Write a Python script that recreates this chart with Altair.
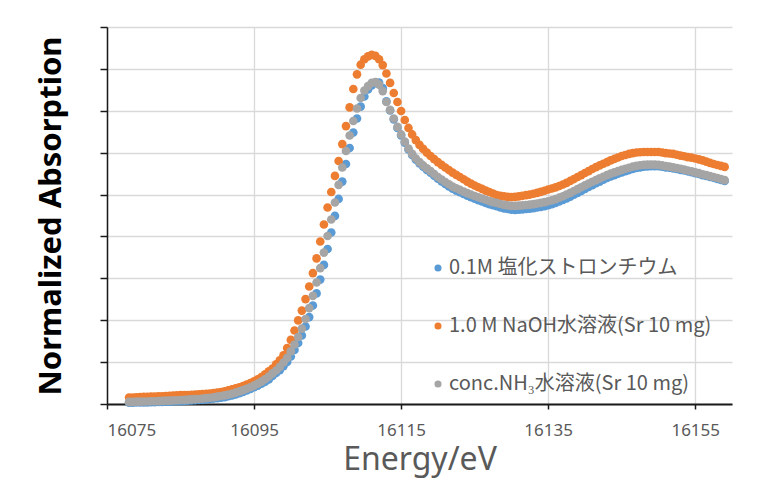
import altair as alt
import pandas as pd

# Energy grid (eV): 0.5 eV steps from 16078 to 16159
energy = [16078 + 0.5 * i for i in range(163)]

# ---- 0.1M SrCl2 (blue) ----
blue_pre = [0.006, 0.006, 0.007, 0.007, 0.008, 0.008, 0.009, 0.009, 0.010, 0.010,
            0.011, 0.011, 0.012, 0.013, 0.014, 0.015, 0.016, 0.017, 0.018, 0.019,
            0.020, 0.022, 0.024, 0.026, 0.028, 0.030, 0.033, 0.037, 0.041, 0.046,
            0.052, 0.058, 0.065, 0.072, 0.080, 0.088, 0.097, 0.106, 0.117]          # 16078-16097
blue_edge = [0.134, 0.148, 0.162, 0.181, 0.201, 0.227, 0.258, 0.291, 0.327, 0.370,
             0.415, 0.470, 0.528, 0.594, 0.664, 0.740, 0.819, 0.898, 0.979, 1.062,
             1.146, 1.222, 1.296, 1.363, 1.420, 1.468, 1.502, 1.521, 1.533, 1.535,
             1.508, 1.445, 1.402, 1.359, 1.318, 1.282, 1.248, 1.215, 1.189, 1.167,
             1.149, 1.133]                                                           # 16097.5-16118
blue_post = [1.118, 1.105, 1.090, 1.076, 1.063, 1.051, 1.039, 1.028, 1.019, 1.011,
             1.003, 0.995, 0.987, 0.980, 0.973, 0.967, 0.960, 0.954, 0.949, 0.944,
             0.939, 0.934, 0.931, 0.928, 0.927, 0.928, 0.929, 0.931, 0.933, 0.935,
             0.938, 0.941, 0.945, 0.949, 0.954, 0.960, 0.967, 0.974, 0.982, 0.990,
             0.999, 1.008, 1.017, 1.027, 1.036, 1.045, 1.054, 1.062, 1.071, 1.079,
             1.086, 1.093, 1.100, 1.106, 1.112, 1.117, 1.122, 1.127, 1.130, 1.133,
             1.134, 1.135, 1.135, 1.135, 1.133, 1.130, 1.128, 1.125, 1.122, 1.118,
             1.115, 1.111, 1.107, 1.102, 1.098, 1.093, 1.089, 1.084, 1.080, 1.075,
             1.070, 1.065]                                                           # 16118.5-16159

# ---- 1.0 M NaOH (orange) ----
orange_pre = [0.031, 0.031, 0.032, 0.033, 0.034, 0.034, 0.035, 0.036, 0.037, 0.037,
              0.038, 0.039, 0.040, 0.041, 0.042, 0.042, 0.043, 0.044, 0.045, 0.046,
              0.047, 0.048, 0.050, 0.052, 0.054, 0.057, 0.061, 0.065, 0.070, 0.075,
              0.080, 0.086, 0.093, 0.100, 0.108, 0.118, 0.129, 0.142, 0.156]
orange_edge = [0.169, 0.189, 0.208, 0.232, 0.267, 0.306, 0.351, 0.399, 0.446, 0.501,
               0.561, 0.625, 0.695, 0.776, 0.857, 0.938, 1.012, 1.089, 1.160, 1.241,
               1.327, 1.416, 1.504, 1.574, 1.620, 1.646, 1.660, 1.667, 1.662, 1.646,
               1.618, 1.578, 1.533, 1.485, 1.442, 1.399, 1.356, 1.318, 1.287, 1.260,
               1.237, 1.218]
orange_post = [1.200, 1.184, 1.169, 1.155, 1.142, 1.129, 1.117, 1.105, 1.094, 1.084,
               1.073, 1.062, 1.052, 1.043, 1.035, 1.027, 1.019, 1.012, 1.005, 0.998,
               0.994, 0.991, 0.989, 0.988, 0.989, 0.991, 0.994, 0.997, 1.000, 1.004,
               1.008, 1.013, 1.018, 1.024, 1.029, 1.034, 1.041, 1.048, 1.056, 1.065,
               1.074, 1.084, 1.093, 1.103, 1.112, 1.122, 1.131, 1.139, 1.147, 1.155,
               1.163, 1.170, 1.177, 1.184, 1.189, 1.194, 1.198, 1.201, 1.202, 1.203,
               1.203, 1.203, 1.203, 1.203, 1.201, 1.198, 1.196, 1.194, 1.190, 1.186,
               1.183, 1.179, 1.176, 1.172, 1.168, 1.163, 1.157, 1.151, 1.146, 1.141,
               1.137, 1.132]

# ---- conc. NH3 (gray) ----
gray_pre = [0.010, 0.010, 0.011, 0.011, 0.012, 0.012, 0.013, 0.013, 0.014, 0.015,
            0.016, 0.016, 0.017, 0.018, 0.019, 0.020, 0.021, 0.022, 0.023, 0.024,
            0.026, 0.028, 0.030, 0.032, 0.035, 0.038, 0.041, 0.045, 0.049, 0.054,
            0.060, 0.066, 0.073, 0.080, 0.088, 0.097, 0.107, 0.118, 0.131]
gray_edge = [0.146, 0.160, 0.177, 0.198, 0.220, 0.251, 0.284, 0.320, 0.360, 0.406,
             0.458, 0.516, 0.580, 0.649, 0.723, 0.802, 0.881, 0.962, 1.046, 1.129,
             1.208, 1.282, 1.351, 1.411, 1.461, 1.497, 1.518, 1.533, 1.537, 1.525,
             1.494, 1.442, 1.404, 1.363, 1.323, 1.287, 1.253, 1.220, 1.194, 1.172,
             1.155, 1.139]
gray_post = [1.125, 1.112, 1.098, 1.084, 1.072, 1.060, 1.049, 1.038, 1.030, 1.022,
             1.014, 1.007, 1.000, 0.993, 0.987, 0.981, 0.975, 0.969, 0.964, 0.960,
             0.955, 0.951, 0.948, 0.946, 0.946, 0.947, 0.948, 0.950, 0.952, 0.954,
             0.957, 0.960, 0.964, 0.968, 0.973, 0.978, 0.985, 0.992, 1.000, 1.008,
             1.017, 1.026, 1.035, 1.044, 1.053, 1.061, 1.069, 1.077, 1.085, 1.093,
             1.100, 1.106, 1.112, 1.118, 1.123, 1.128, 1.133, 1.137, 1.140, 1.142,
             1.143, 1.143, 1.143, 1.142, 1.139, 1.136, 1.133, 1.130, 1.127, 1.123,
             1.119, 1.115, 1.111, 1.106, 1.102, 1.097, 1.093, 1.088, 1.084, 1.079,
             1.074, 1.069]

blue = blue_pre + blue_edge + blue_post
orange = orange_pre + orange_edge + orange_post
gray = gray_pre + gray_edge + gray_post

series_names = ["0.1M 塩化ストロンチウム", "1.0 M NaOH水溶液(Sr 10 mg)", "conc.NH₃水溶液(Sr 10 mg)"]
series_colors = ["#5B9BD5", "#ED7D31", "#A5A5A5"]
x_ticks = [16075, 16095, 16115, 16135, 16155]
y_ticks = [0, 0.2, 0.4, 0.6, 0.8, 1.0, 1.2, 1.4, 1.6, 1.8]

rows = []
for name, vals in zip(series_names, [blue, orange, gray]):
    for e, v in zip(energy, vals):
        rows.append({"energy": e, "absorption": v, "series": name})
df = pd.DataFrame(rows)

points = alt.Chart(df).mark_circle(size=75, opacity=1).encode(
    x=alt.X("energy:Q",
            scale=alt.Scale(domain=[16075, 16160], nice=False, zero=False),
            axis=alt.Axis(values=x_ticks, format="d", title="Energy/eV",
                          grid=True, gridColor="#D9D9D9", gridWidth=1.3,
                          domainColor="#1a1a1a", domainWidth=2,
                          tickColor="#1a1a1a", tickSize=5, tickWidth=1.5,
                          labelFont="Noto Sans", labelFontSize=17, labelColor="#595959",
                          labelPadding=13,
                          titleFont="Noto Sans", titleFontSize=32, titleFontWeight="normal",
                          titleColor="#595959", titlePadding=6)),
    y=alt.Y("absorption:Q",
            scale=alt.Scale(domain=[0, 1.8], nice=False, zero=True),
            axis=alt.Axis(values=y_ticks, labels=False, title="Normalized Absorption",
                          grid=True, gridColor="#D9D9D9", gridWidth=1.3,
                          domainColor="#1a1a1a", domainWidth=1.5,
                          tickColor="#1a1a1a", tickSize=7, tickWidth=1.5,
                          titleFont="Noto Sans", titleFontSize=31, titleFontWeight="bold",
                          titleColor="#000000", titlePadding=32)),
    color=alt.Color("series:N",
                    scale=alt.Scale(domain=series_names, range=series_colors),
                    legend=alt.Legend(title=None, orient="none", legendX=321, legendY=231,
                                      direction="vertical", symbolType="circle",
                                      symbolSize=50, symbolStrokeWidth=0,
                                      labelFont="Noto Sans CJK JP", labelFontSize=20,
                                      labelColor="#595959", labelOffset=1, labelLimit=0,
                                      rowPadding=38, padding=0)),
)

chart = points.properties(
    width=625, height=377,
    autosize=alt.AutoSizeParams(type="none"),
    padding={"left": 99, "top": 19, "right": 17, "bottom": 75},
).configure_view(stroke=None)

chart.save("out.html", embed_options={"renderer": "svg", "actions": False})
